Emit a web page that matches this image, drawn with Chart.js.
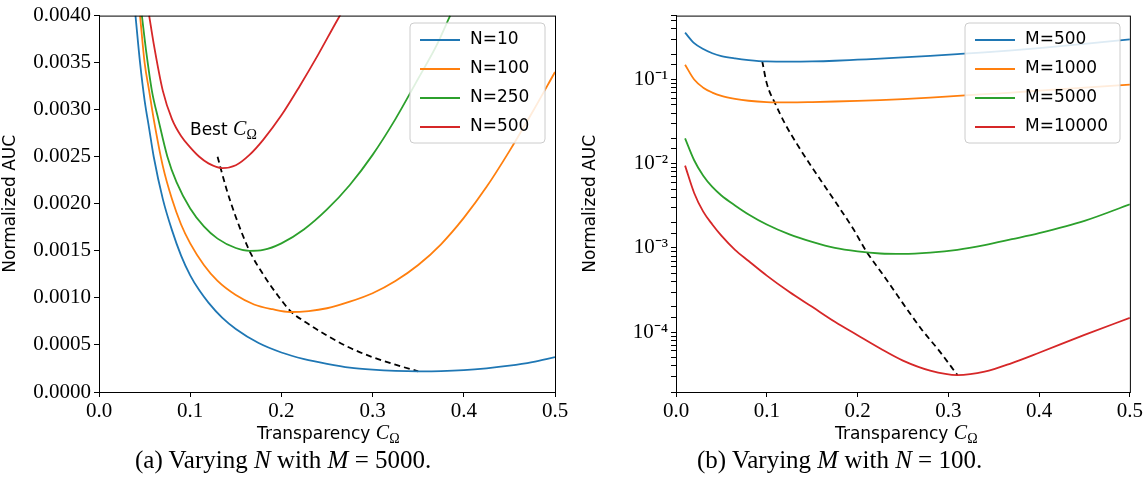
<!DOCTYPE html>
<html><head><meta charset="utf-8">
<script src="https://cdn.jsdelivr.net/npm/chart.js@4.4.1/dist/chart.umd.min.js"></script>
<style>
body{margin:0;background:#fff;width:1145px;height:498px;position:relative;overflow:hidden}
canvas{position:absolute}
.t{position:absolute;font-family:"DejaVu Sans",sans-serif;font-size:17px;color:#000;white-space:nowrap}
.cap{position:absolute;font-family:"Liberation Serif",serif;font-size:25px;top:446px;white-space:nowrap}
</style></head><body>
<div style="position:absolute;left:0;top:0;width:575px;height:450px"><canvas id="c1"></canvas></div>
<div style="position:absolute;left:580px;top:0;width:565px;height:450px"><canvas id="c2"></canvas></div>
<div class="t" style="left:257px;top:421px">Transparency <i style="font-family:'Liberation Serif',serif;font-size:20px">C</i><sub style="font-family:'Liberation Serif',serif;font-size:14px">Ω</sub></div>
<div class="t" style="left:835px;top:421px">Transparency <i style="font-family:'Liberation Serif',serif;font-size:20px">C</i><sub style="font-family:'Liberation Serif',serif;font-size:14px">Ω</sub></div>
<div class="t" style="left:190px;top:117px">Best <i style="font-family:'Liberation Serif',serif;font-size:20px">C</i><sub style="font-family:'Liberation Serif',serif;font-size:14px">Ω</sub></div>
<div class="cap" style="left:135px">(a) Varying <i>N</i> with <i>M</i> = 5000.</div>
<div class="cap" style="left:697px">(b) Varying <i>M</i> with <i>N</i> = 100.</div>
<script>
// Left chart: varying N (M=5000)
const xN10=[0.04,0.045,0.05,0.055,0.06,0.07,0.08,0.09,0.1,0.11,0.12,0.135,0.15,0.175,0.2,0.225,0.25,0.275,0.3,0.325,0.35,0.375,0.4,0.425,0.45,0.475,0.5];
const yN10=[0.004,0.0035,0.0031,0.0028,0.0025,0.00205,0.00172,0.00145,0.00124,0.00108,0.00095,0.00079,0.00067,0.00052,0.00042,0.00035,0.0003,0.00026,0.000238,0.000225,0.00022,0.000222,0.000232,0.000252,0.00028,0.000318,0.00037];
const xN100=[0.045,0.05,0.055,0.06,0.07,0.08,0.09,0.1,0.115,0.13,0.15,0.17,0.19,0.21,0.23,0.25,0.275,0.3,0.325,0.35,0.375,0.4,0.425,0.45,0.475,0.5];
const yN100=[0.004,0.0035,0.0032,0.0029,0.0024,0.00205,0.00178,0.00158,0.00135,0.00118,0.00103,0.00093,0.00088,0.00085,0.00086,0.00089,0.00096,0.00105,0.00118,0.00135,0.00157,0.00185,0.00218,0.00256,0.00297,0.0034];
const xN250=[0.047,0.052,0.058,0.065,0.075,0.085,0.1,0.115,0.13,0.15,0.165,0.18,0.2,0.225,0.25,0.275,0.3,0.325,0.35,0.37,0.385];
const yN250=[0.004,0.0036,0.0032,0.0029,0.0025,0.00223,0.00195,0.00176,0.00163,0.00153,0.0015,0.00151,0.00158,0.00173,0.00194,0.0022,0.00252,0.0029,0.00333,0.00368,0.004];
const xN500=[0.055,0.06,0.07,0.08,0.09,0.1,0.11,0.12,0.135,0.15,0.165,0.18,0.2,0.22,0.24,0.26,0.276];
const yN500=[0.004,0.0037,0.0032,0.0029,0.00272,0.0026,0.0025,0.00243,0.00238,0.00241,0.00252,0.00268,0.00294,0.00325,0.00358,0.00393,0.0042];
const xBestA=[0.13,0.14,0.15,0.165,0.18,0.195,0.21,0.23,0.25,0.275,0.3,0.325,0.35];
const yBestA=[0.0025,0.00215,0.00186,0.0015,0.00125,0.00104,0.00086,0.00072,0.0006,0.00047,0.00037,0.00029,0.00022];
const labelsA=['N=10','N=100','N=250','N=500'];
// Right chart: varying M (N=100)
const xM=[0.01,0.02,0.03,0.04,0.05,0.065,0.08,0.1,0.125,0.15,0.175,0.2,0.225,0.25,0.28,0.31,0.34,0.37,0.4,0.45,0.5];
const yM500=[0.36,0.27,0.23,0.205,0.19,0.178,0.17,0.164,0.163,0.164,0.167,0.172,0.177,0.183,0.191,0.2,0.21,0.222,0.236,0.265,0.3];
const yM1000=[0.15,0.1,0.08,0.07,0.064,0.059,0.056,0.054,0.0535,0.054,0.0548,0.0558,0.057,0.0585,0.061,0.064,0.067,0.07,0.074,0.08,0.087];
const yM5000=[0.02,0.011,0.0072,0.0053,0.0042,0.0032,0.0025,0.0019,0.00145,0.00118,0.001,0.00091,0.00086,0.00085,0.00088,0.00095,0.00108,0.00127,0.0015,0.0021,0.0033];
const yM10000=[0.0095,0.0045,0.0027,0.0019,0.0014,0.00095,0.0007,0.00047,0.0003,0.0002,0.000133,0.000092,0.000064,0.000046,0.000035,0.000031,0.000034,0.000043,0.000057,0.000093,0.000148];
const xBestB=[0.095,0.1,0.11,0.12,0.135,0.15,0.165,0.18,0.195,0.21,0.23,0.25,0.27,0.29,0.31];
const yBestB=[0.165,0.09,0.05,0.03,0.016,0.009,0.0052,0.003,0.0017,0.0009,0.00045,0.00022,0.00011,0.00006,0.000031];
const labelsB=['M=500','M=1000','M=5000','M=10000'];
const colors=['#1f77b4','#ff7f0e','#2ca02c','#d62728'];

const pts=(xs,ys)=>xs.map((x,i)=>({x,y:ys[i]}));
function ds(xs,ys,i,label){return {label,data:pts(xs,ys),borderColor:colors[i],borderWidth:1.8,pointRadius:0,cubicInterpolationMode:'monotone',fill:false};}
function best(xs,ys){return {label:'best',data:pts(xs,ys),borderColor:'#000',borderWidth:1.8,borderDash:[6,4],pointRadius:0,cubicInterpolationMode:'monotone'};}

const frame={id:'frame',afterDraw(ch,a,o){
  const c=ch.ctx,ca=ch.chartArea;
  c.save();c.strokeStyle='#000';c.lineWidth=1;c.strokeRect(ca.left+0.5,ca.top+0.5,ca.right-ca.left,ca.bottom-ca.top);
  const L=o.box; c.fillStyle='rgba(255,255,255,0.85)';c.strokeStyle='#ccc';
  c.beginPath();c.roundRect(L.x,L.y,L.w,L.h,4);c.fill();c.stroke();
  c.font='17px "DejaVu Sans", sans-serif';c.textBaseline='middle';
  ch.data.datasets.slice(0,4).forEach((d,i)=>{const y=L.y+17+i*29;
    c.strokeStyle=d.borderColor;c.lineWidth=1.8;c.beginPath();c.moveTo(L.x+10,y);c.lineTo(L.x+50,y);c.stroke();
    c.fillStyle='#000';c.fillText(d.label,L.x+60,y);});
  c.restore();}};
Chart.register(frame);
const tickFont={family:'"Liberation Serif", serif',size:21};
function base(yw,pr,box){return {responsive:true,maintainAspectRatio:false,animation:false,
 layout:{padding:{top:15,right:pr,left:0,bottom:0}},
 plugins:{legend:{display:false},tooltip:{enabled:false},frame:{box}},
 scales:{x:{type:'linear',min:0,max:0.5,afterFit:s=>{s.height=58},
   ticks:{stepSize:0.1,color:'#000',font:tickFont,callback:v=>v.toFixed(1),maxRotation:0,padding:2},
   grid:{drawOnChartArea:false,tickLength:5,color:'#000'},border:{color:'#000'}},
  y:{afterFit:s=>{s.width=yw},title:{display:true,text:'Normalized AUC',color:'#000',font:{family:'"DejaVu Sans", sans-serif',size:17},padding:{top:0,bottom:2}},
   grid:{drawOnChartArea:false,tickLength:5,color:'#000'},border:{color:'#000'}}}};}
const o1=base(99,20,{x:410,y:23,w:135,h:120});
Object.assign(o1.scales.y,{min:0,max:0.004,ticks:{stepSize:0.0005,color:'#000',font:tickFont,callback:v=>v.toFixed(4),padding:3}});
new Chart(document.getElementById('c1'),{type:'line',data:{datasets:[ds(xN10,yN10,0,labelsA[0]),ds(xN100,yN100,1,labelsA[1]),ds(xN250,yN250,2,labelsA[2]),ds(xN500,yN500,3,labelsA[3]),best(xBestA,yBestA)]},options:o1});
const sup={'-1':'10⁻¹','-2':'10⁻²','-3':'10⁻³','-4':'10⁻⁴','-5':'10⁻⁵','0':'10⁰'};
const o2=base(96,15,{x:385,y:23,w:155,h:120});
Object.assign(o2.scales.y,{type:'logarithmic',min:1.95e-5,max:0.574,ticks:{color:'#000',font:tickFont,autoSkip:false,padding:3,callback:v=>{const l=Math.log10(v);return Math.abs(l-Math.round(l))<1e-6?sup[String(Math.round(l))]:'';}}});
new Chart(document.getElementById('c2'),{type:'line',data:{datasets:[ds(xM,yM500,0,labelsB[0]),ds(xM,yM1000,1,labelsB[1]),ds(xM,yM5000,2,labelsB[2]),ds(xM,yM10000,3,labelsB[3]),best(xBestB,yBestB)]},options:o2});
</script></body></html>
